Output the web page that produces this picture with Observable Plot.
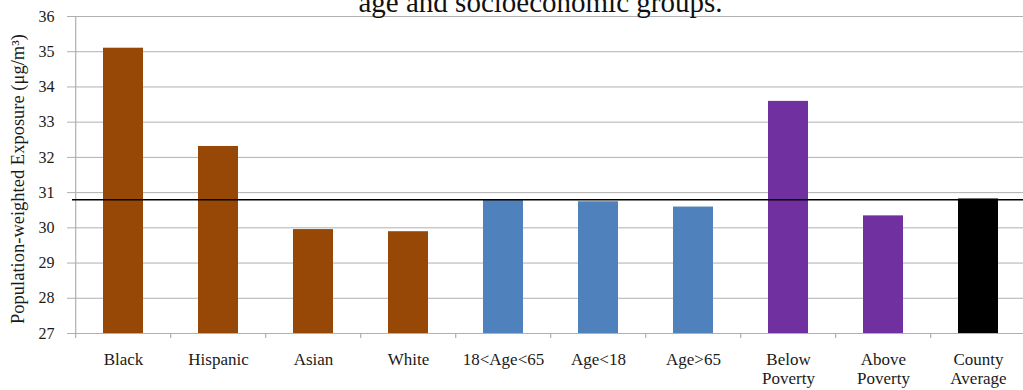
<!DOCTYPE html>
<html>
<head>
<meta charset="utf-8">
<script src="https://cdn.jsdelivr.net/npm/d3@7"></script>
<script src="https://cdn.jsdelivr.net/npm/@observablehq/plot@0.6"></script>
<style>
  body { margin: 0; background: #fff; }
  #wrap { position: relative; width: 1023px; height: 390px; overflow: hidden; }
  #title { position: absolute; top: -12px; left: 29px; width: 1023px; text-align: center;
    font-family: "Liberation Serif", "Times New Roman", serif; font-size: 29px; line-height: 29px; color: #111; }
</style>
</head>
<body>
<div id="wrap">
<div id="chart"></div>
<div id="title">age and socioeconomic groups.</div>
</div>
<script>
const categories = ["Black", "Hispanic", "Asian", "White", "18<Age<65", "Age<18", "Age>65", "Below\nPoverty", "Above\nPoverty", "County\nAverage"];
const values = [35.1, 32.31, 29.95, 29.89, 30.80, 30.74, 30.59, 33.59, 30.34, 30.82];
const groups = ["race", "race", "race", "race", "age", "age", "age", "income", "income", "total"];
const groupColors = { race: "#974706", age: "#4F81BD", income: "#7030A0", total: "#000000" };
const countyAverage = 30.8;
const yTicks = [27, 28, 29, 30, 31, 32, 33, 34, 35, 36];
const yLabel = "Population-weighted Exposure (μg/m³)";

const data = categories.map((c, i) => ({ cat: c, value: values[i], group: groups[i] }));

const W = 1023, H = 390, mL = 72, mR = 0, mT = 16, mB = 57;
const xRight = 1028; // plot area continues slightly past the cropped right edge
const half = (xRight - mL) / categories.length / 2;
const font = "Liberation Serif, Times New Roman, serif";
const grey = "#b0b0b0";

const chart = Plot.plot({
  width: W, height: H,
  marginLeft: mL, marginRight: mR, marginTop: mT, marginBottom: mB,
  style: { fontFamily: font, fontSize: "16px", color: "#1a1a1a", background: "#fff" },
  x: { type: "band", domain: categories, range: [mL, xRight], paddingInner: 0.58, paddingOuter: 0.29, align: 0.5 },
  y: { type: "linear", domain: [27, 36] },
  marks: [
    Plot.gridY(yTicks, { stroke: grey, strokeOpacity: 1, strokeWidth: 1 }),
    // y axis line at left band boundary
    Plot.ruleX([categories[0]], { y1: 27, y2: 36, dx: -half, stroke: grey, strokeWidth: 1.2 }),
    // x axis line
    Plot.ruleY([27], { stroke: grey, strokeWidth: 1.2 }),
    // x tick marks at band boundaries
    Plot.ruleX(categories, { x: d => d, y1: 27, y2: 27, insetBottom: -5, dx: -half, stroke: grey, strokeWidth: 1.2 }),
    Plot.barY(data, { x: "cat", y1: 27, y2: "value", fill: d => groupColors[d.group] }),
    Plot.ruleY([countyAverage], { stroke: "#000", strokeWidth: 1.5 }),
    Plot.axisY(yTicks, { tickSize: 5, stroke: grey, tickPadding: 13, fontSize: 16, fill: "#1a1a1a", label: null }),
    Plot.text([yLabel], { text: d => d, frameAnchor: "left", dx: -54, dy: 4, rotate: -90,
      fontSize: 18.5, fill: "#1a1a1a", textAnchor: "middle", lineAnchor: "middle" }),
    Plot.axisX({ tickSize: 0, tickPadding: 18, fontSize: 17, fill: "#1a1a1a", lineHeight: 1.12, label: null })
  ]
});
document.getElementById("chart").appendChild(chart);
</script>
</body>
</html>
